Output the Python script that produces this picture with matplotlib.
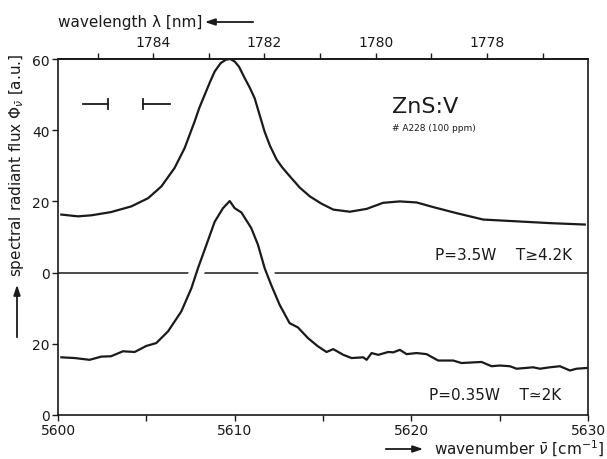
import matplotlib
matplotlib.use("Agg")
import matplotlib.pyplot as plt
import matplotlib.patheffects as pe
import numpy as np

# ---- data ----
# upper spectrum: P = 3.5 W, T >= 4.2 K ; values on the upper scale (0 at middle line)
nu_upper = [5600.19, 5601.13, 5601.90, 5603.00, 5604.15, 5605.10, 5605.85, 5606.60,
            5607.17, 5607.45, 5607.73, 5608.00, 5608.30, 5608.60, 5608.87, 5609.20,
            5609.50, 5609.75, 5610.00, 5610.25, 5610.57, 5610.85, 5611.13, 5611.40,
            5611.70, 5612.00, 5612.38, 5612.70, 5613.13, 5613.70, 5614.26, 5614.90,
            5615.58, 5616.52, 5617.47, 5618.40, 5619.35, 5620.30, 5621.24, 5622.56,
            5624.07, 5625.96, 5627.84, 5629.82]
flux_upper = [16.3, 15.8, 16.1, 17.0, 18.6, 20.9, 24.2, 29.4,
              35.0, 38.7, 42.4, 46.3, 49.9, 53.5, 56.5, 58.8,
              59.8, 60.0, 59.3, 57.8, 54.6, 52.0, 49.0, 44.5,
              39.5, 35.6, 31.7, 29.5, 27.0, 23.8, 21.4, 19.4,
              17.7, 17.1, 17.9, 19.6, 20.0, 19.7, 18.4, 16.7,
              14.9, 14.4, 13.9, 13.5]

# lower spectrum: P = 0.35 W, T ~ 2 K ; values on the lower scale (0 at bottom)
nu_lower = [5600.19, 5600.94, 5601.79, 5602.45, 5603.00, 5603.68, 5604.34, 5605.00,
            5605.56, 5606.23, 5606.98, 5607.55, 5607.92, 5608.40, 5608.87, 5609.34,
            5609.72, 5610.00, 5610.38, 5610.94, 5611.32, 5611.70, 5612.07, 5612.55,
            5613.11, 5613.58, 5614.15, 5614.71, 5615.20, 5615.58, 5616.15, 5616.62,
            5617.28, 5617.47, 5617.75, 5618.13, 5618.69, 5618.98, 5619.35, 5619.73,
            5620.30, 5620.86, 5621.52, 5622.37, 5622.84, 5623.97, 5624.54, 5625.00,
            5625.58, 5625.96, 5626.90, 5627.28, 5627.84, 5628.41, 5628.98, 5629.35,
            5629.92]
flux_lower = [16.2, 16.0, 15.5, 16.4, 16.5, 17.9, 17.7, 19.4,
              20.2, 23.5, 29.1, 35.6, 41.2, 47.8, 54.3, 58.1,
              60.1, 58.1, 56.9, 52.5, 47.8, 41.2, 36.5, 30.9,
              25.8, 24.6, 21.6, 19.3, 17.7, 18.5, 16.9, 16.0,
              16.2, 15.5, 17.4, 16.9, 17.7, 17.6, 18.3, 17.1,
              17.4, 17.1, 15.3, 15.3, 14.6, 14.9, 13.7, 13.9,
              13.7, 13.0, 13.4, 13.0, 13.4, 13.7, 12.5, 13.0,
              13.2]

x_ticks = [5600, 5610, 5620, 5630]
x_minor = [5605, 5615, 5625]
y_tick_pos = [-40, -20, 0, 20, 40, 60]
y_tick_labels = ["0", "20", "0", "20", "40", "60"]
lam_ticks = [1784, 1782, 1780, 1778]
lam_minor = [1785, 1783, 1781, 1779, 1777]
lower_offset = 40  # lower spectrum's zero sits at the bottom of the frame

# ---- figure ----
W, H = 607, 460
fig = plt.figure(figsize=(W / 100, H / 100), dpi=100)
ax = fig.add_axes([58 / W, 1 - 416 / H, (588 - 58) / W, (416 - 60) / H])
ink = "#1a1a1a"
fs = 10

ax.set_xlim(5600, 5630)
ax.set_ylim(-40, 60)

# middle baseline
ax.axhline(0, color=ink, lw=1.1, zorder=1)

ax.plot(nu_upper, flux_upper, color=ink, lw=1.6, zorder=3, solid_joinstyle="round")
ax.plot(nu_lower, np.array(flux_lower) - lower_offset, color=ink, lw=1.6, zorder=3,
        solid_joinstyle="round",
        path_effects=[pe.Stroke(linewidth=11, foreground="white"), pe.Normal()])

for s in ax.spines.values():
    s.set_linewidth(1.2)
    s.set_color(ink)
    s.set_zorder(5)

ax.set_xticks(x_ticks)
ax.set_xticks(x_minor, minor=True)
ax.set_yticks(y_tick_pos)
ax.set_yticklabels(y_tick_labels)
ax.tick_params(axis="both", which="both", direction="out", color=ink,
               labelsize=fs, labelcolor=ink, width=1.0)
ax.tick_params(which="major", length=4, pad=2)
ax.tick_params(which="minor", length=4)

sec = ax.secondary_xaxis("top", functions=(lambda v: 1e7 / v, lambda l: 1e7 / l))
sec.set_xticks(lam_ticks)
sec.set_xticks(lam_minor, minor=True)
sec.tick_params(which="both", direction="out", length=4, width=1.0, color=ink,
                labelsize=fs, labelcolor=ink, pad=3)
sec.spines["top"].set_linewidth(1.2)

# resolution marks
ax.plot([5601.4, 5602.83], [47.4, 47.4], color=ink, lw=1.3)
ax.plot([5602.83, 5602.83], [46.0, 48.8], color=ink, lw=1.3)
ax.plot([5604.81, 5606.34], [47.4, 47.4], color=ink, lw=1.3)
ax.plot([5604.81, 5604.81], [46.0, 48.8], color=ink, lw=1.3)

ax.text(5618.9, 46.8, "ZnS:V", fontsize=16, color=ink, ha="left", va="center")
ax.text(5618.9, 40.8, "# A228 (100 ppm)", fontsize=6.5, color=ink, ha="left", va="center")
ax.text(5629.1, 5.0, "P=3.5W    T\u22654.2K", fontsize=11, color=ink, ha="right", va="center")
ax.text(5628.5, -34.2, "P=0.35W    T\u22432K", fontsize=11, color=ink, ha="right", va="center")

# axis labels with arrows (figure pixel coordinates)
fig.text(58 / W, 1 - 23 / H, "wavelength \u03bb [nm]", fontsize=fs + 1, color=ink,
         ha="left", va="center")
ax.annotate("", xy=(202, H - 23), xytext=(256, H - 23), xycoords="figure pixels",
            textcoords="figure pixels",
            arrowprops=dict(arrowstyle="-|>,head_length=0.6,head_width=0.2", color=ink, lw=1.3))

fig.text(604 / W, 1 - 449 / H, r"wavenumber $\bar{\nu}$ [cm$^{-1}$]", fontsize=fs + 1,
         color=ink, ha="right", va="center")
ax.annotate("", xy=(426, H - 450), xytext=(383, H - 450), xycoords="figure pixels",
            textcoords="figure pixels",
            arrowprops=dict(arrowstyle="-|>,head_length=0.6,head_width=0.2", color=ink, lw=1.3))

fig.text(17 / W, 1 - 277 / H, r"spectral radiant flux $\Phi_{\bar{\nu}}$ [a.u.]",
         fontsize=fs + 1, color=ink, rotation=90, rotation_mode="anchor",
         ha="left", va="center")
ax.annotate("", xy=(17, H - 283), xytext=(17, H - 341), xycoords="figure pixels",
            textcoords="figure pixels",
            arrowprops=dict(arrowstyle="-|>,head_length=0.6,head_width=0.2", color=ink, lw=1.3))

fig.savefig("out.png", dpi=100)
